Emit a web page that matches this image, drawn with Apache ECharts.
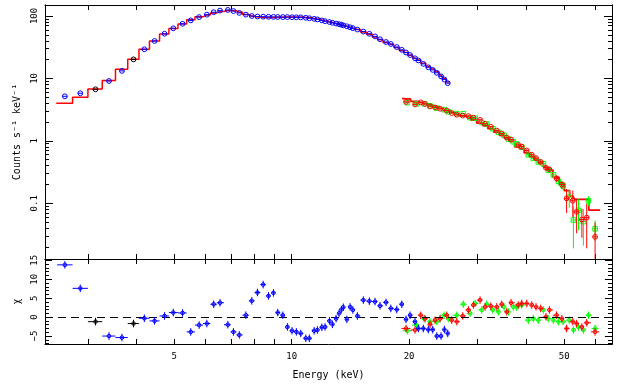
<!DOCTYPE html>
<html><head><meta charset="utf-8">
<script src="https://cdn.jsdelivr.net/npm/echarts@6.0.0/dist/echarts.min.js"></script>
<style>html,body{margin:0;padding:0;background:#fff}#c{width:622px;height:384px}</style>
</head><body><div id="c"></div>
<script>
// ---------- data (energies in keV, counts s^-1 keV^-1, residuals in chi) ----------
const blueE = [2.62,2.87,3.40,3.67,4.19,4.45,4.72,4.97,5.25,5.51,5.79,6.06,6.31,6.55,6.86,7.09,7.34,7.63,7.90,8.17,8.45,8.72,8.98,9.21,9.49,9.75,10.02,10.28,10.55,10.87,11.10,11.42,11.64,11.95,12.18,12.50,12.72,13.00,13.23,13.41,13.57,13.85,14.12,14.35,14.74,15.27,15.82,16.36,16.85,17.46,17.96,18.60,19.16,19.65,20.12,20.72,21.13,21.76,22.41,23.00,23.56,24.16,24.64,25.13];
const blueC = [5.17,5.78,9.1,13.2,29.3,39.8,52.0,63.5,75,85,96,105,115,122,125,120,112,105,100,98,97.5,97,96.7,96.4,96,96,95.6,95.3,95,93.6,92,90,88.2,85,82.6,80,77.8,75.5,74,72.3,70.7,68.4,65.9,63.8,60.6,56.3,51.9,47.1,42.4,38.3,35.6,31.8,28.7,26.0,23.7,21.0,19.4,17.1,15.1,13.7,12.3,10.8,9.6,8.4];
const blueChi = [13.8,7.6,-5.0,-5.4,-0.3,-1.0,0.3,1.2,1.1,-3.9,-2.1,-1.7,3.4,3.8,-2.0,-3.9,-4.7,0.5,4.3,6.5,8.6,5.6,6.4,1.2,0.5,-2.6,-3.6,-3.9,-4.3,-5.6,-5.6,-3.6,-3.4,-2.7,-2.6,-1.0,-1.9,-0.4,1.0,2.0,2.6,-0.6,2.7,1.9,0.3,4.5,4.2,4.1,3.0,3.9,2.3,2.0,3.4,-0.6,0.5,-1.2,-3.0,-3.0,-3.3,-3.3,-5.0,-5.0,-3.3,-4.3];

const blackE = [3.14,3.93];
const blackC = [6.7,20.2];
const blackChi = [-1.2,-1.7];

const modLoE = [2.49,2.62,2.87,3.14,3.40,3.67,3.93,4.19,4.45,4.72,4.97,5.25,5.51,5.79,6.06,6.31,6.55,6.86,7.09,7.34,7.63,7.90,8.17,8.45,8.72,8.98,9.21,9.49,9.75,10.02,10.28,10.55,10.87,11.10,11.42,11.64,11.95,12.18,12.50,12.72,13.00,13.23,13.41,13.57,13.85,14.12,14.35,14.74,15.27,15.82,16.36,16.85,17.46,17.96,18.60,19.16,19.65,20.12,20.72,21.13,21.76,22.41,23.00,23.56,24.16,24.64,25.13,25.4];
const modLoC = [4.0,4.0,5.0,6.8,9.3,14.0,20.2,29.3,39.8,51.5,63,74.5,87,97,104,112,118,123,121,115,106,99,96,95,95,95,95.5,95.6,96.5,96.5,96.3,96,95,93.5,91,89.3,86.2,83.5,80.5,78.5,75.8,73.5,71.6,70,68.6,65.2,63.3,60.5,55.2,50.8,46.2,41.7,37.5,35.1,31.4,28.1,26.1,23.6,21.2,19.8,17.5,15.5,14.1,12.8,11.3,10.0,8.8,8.8];

const redE = [19.65,20.72,21.43,21.98,22.64,23.32,24.02,24.99,25.73,26.51,27.46,28.39,29.24,30.42,31.33,32.41,33.58,34.58,35.62,36.52,38.13,38.9,40.07,41.28,42.33,43.52,44.9,45.8,47.8,49.3,50.7,52.6,53.8,55.5,57.1,60.0];
const redC = [4.21,3.84,4.13,3.91,3.57,3.43,3.27,3.06,2.79,2.62,2.54,2.49,2.35,2.17,1.88,1.68,1.46,1.31,1.13,1.05,0.86,0.81,0.70,0.60,0.53,0.46,0.37,0.35,0.25,0.20,0.12,0.11,0.073,0.055,0.059,0.029];
const redSig = [0.09,0.08,0.08,0.08,0.07,0.07,0.07,0.06,0.06,0.06,0.06,0.06,0.06,0.06,0.05,0.05,0.05,0.05,0.045,0.045,0.04,0.04,0.035,0.035,0.03,0.03,0.03,0.03,0.03,0.03,0.05,0.05,0.04,0.027,0.04,0.02];
const redChi = [-3.0,-3.4,0.5,-0.4,-1.9,-0.8,-0.4,0.5,-0.8,-1.2,0.3,1.9,3.2,4.5,2.7,2.9,2.7,3.4,1.4,3.8,3.2,3.6,3.6,3.2,2.7,2.3,0.1,1.9,0.5,-0.4,-3.0,-1.2,-1.7,-2.6,-1.5,-3.9];

const greenE = [19.8,20.9,21.85,22.64,23.56,24.6,25.22,26.51,27.56,28.67,29.53,30.72,31.64,32.8,33.9,35.05,35.95,37.02,37.77,38.9,40.45,41.67,42.91,44.2,45.5,46.9,48.3,49.7,51.5,52.8,54.4,56.0,57.7,60.0];
const greenC = [4.1,3.93,3.94,3.64,3.35,3.17,2.93,2.73,2.71,2.36,2.31,1.97,1.86,1.57,1.37,1.23,1.07,0.97,0.89,0.80,0.60,0.525,0.46,0.43,0.34,0.285,0.225,0.19,0.125,0.054,0.077,0.051,0.11,0.039];
const greenSig = [0.09,0.08,0.08,0.08,0.07,0.07,0.07,0.06,0.06,0.06,0.06,0.05,0.05,0.05,0.05,0.045,0.045,0.04,0.04,0.04,0.035,0.035,0.03,0.03,0.03,0.03,0.03,0.03,0.04,0.035,0.04,0.03,0.02,0.014];
const greenChi = [-3.6,-2.1,-0.4,-1.2,-1.2,0.5,-0.4,0.5,3.4,1.0,3.6,1.9,3.4,1.9,1.4,2.7,1.4,2.7,2.6,3.2,-0.8,-0.4,-0.8,1.9,-0.4,-0.8,-1.2,-1.2,-0.8,-3.4,-2.6,-3.4,0.5,-3.0];

const modHiE = [19.2,19.65,20.72,21.43,21.98,22.64,23.32,24.02,24.99,25.73,26.51,27.46,28.39,29.24,30.42,31.33,32.41,33.58,34.58,35.62,36.52,38.13,38.9,40.07,41.28,42.33,43.52,44.9,45.8,47.8,49.3,50.7,52.6,53.8,55.5,57.1,58.5,60.0,61.8];
const modHiC = [4.8,4.7,4.3,4.1,3.95,3.75,3.52,3.32,3.04,2.86,2.7,2.5,2.33,2.15,1.93,1.76,1.57,1.38,1.23,1.1,0.98,0.8,0.74,0.64,0.56,0.5,0.44,0.38,0.34,0.26,0.21,0.16,0.13,0.116,0.116,0.116,0.078,0.078,0.078];

const xTickE = [3,4,5,6,7,8,9,10,20,30,40,50,60];
const xLabelE = [5,10,20,50];
const yLabelC = [0.1,1,10,100];
const yMinorC = [0.02,0.03,0.04,0.05,0.06,0.07,0.08,0.09,0.2,0.3,0.4,0.5,0.6,0.7,0.8,0.9,2,3,4,5,6,7,8,9,20,30,40,50,60,70,80,90];
const chiLabels = [-5,0,5,10,15];
const chiMinor = [-7,-6,-4,-3,-2,-1,1,2,3,4,6,7,8,9,11,12,13,14];

// ---------- helpers ----------
const L = Math.log10;
const X_MIN = L(2.33), X_MAX = L(66.3);
const Y_MIN = -1.892, Y_MAX = 2.176;
const C_MIN = -7.1, C_MAX = 15.35;
const FONT = 'DejaVu Sans Mono';

function binEdges(E){
  const lo=[],hi=[];
  for(let i=0;i<E.length;i++){
    const l = i>0 ? Math.sqrt(E[i-1]*E[i]) : E[i]*E[i]/Math.sqrt(E[i]*E[i+1]);
    const h = i<E.length-1 ? Math.sqrt(E[i]*E[i+1]) : E[i]*E[i]/Math.sqrt(E[i-1]*E[i]);
    lo.push(l); hi.push(h);
  }
  return [lo,hi];
}
const loAll = blueE.concat(blackE).sort((a,b)=>a-b);
const [loL, loH] = binEdges(loAll);
function edgeOf(e){ const i = loAll.indexOf(e); return [loL[i], loH[i]]; }

function topRows(E, C, S, edgesFn){
  return E.map((e,i)=>{
    const [el,eh] = edgesFn(e,i);
    const s = S ? S[i] : 0;
    const lo = C[i]-s > 0 ? Math.max(L(C[i]-s), Y_MIN) : Y_MIN;
    return [L(e), L(C[i]), L(el), L(eh), lo, L(C[i]+s)];
  });
}
function resRows(E, R, edgesFn){
  return E.map((e,i)=>{
    const [el,eh] = edgesFn(e,i);
    return [L(e), R[i], L(el), L(eh), Math.max(R[i]-1, C_MIN), Math.min(R[i]+1, C_MAX)];
  });
}
const [rL,rH] = binEdges(redE), [gL,gH] = binEdges(greenE);
const loEdge = (e)=>edgeOf(e);
const redEdge = (e,i)=>[rL[i],rH[i]];
const greenEdge = (e,i)=>[gL[i],gH[i]];

// showX: draw full horizontal bin bar; otherwise only a short bar inside the marker
function errSeries(xi, yi, rows, color, shape, r, z, showX){
  return {
    type:'custom', xAxisIndex:xi, yAxisIndex:yi, z:z, silent:true, animation:false,
    data: rows,
    renderItem(params, api){
      const x=api.value(0), y=api.value(1);
      const c=api.coord([x,y]);
      let a=api.coord([api.value(2),y]), b=api.coord([api.value(3),y]);
      if(!showX){ a=[c[0]-r,c[1]]; b=[c[0]+r,c[1]]; }
      const d=api.coord([x,api.value(4)]), e=api.coord([x,api.value(5)]);
      const st={stroke:color, lineWidth:1, fill:'none'};
      const ch=[
        {type:'line', shape:{x1:a[0],y1:c[1],x2:b[0],y2:c[1]}, style:st},
        {type:'line', shape:{x1:c[0],y1:d[1],x2:c[0],y2:e[1]}, style:st}
      ];
      if(shape==='rect') ch.push({type:'rect', shape:{x:c[0]-r,y:c[1]-r,width:2*r,height:2*r}, style:st});
      else ch.push({type:'circle', shape:{cx:c[0],cy:c[1],r:r}, style:st});
      return {type:'group', children:ch};
    }
  };
}

const lab = {color:'#000', fontFamily:FONT, fontSize:9};
function xAx(grid, pos, withLabels, name){
  return {type:'value', gridIndex:grid, position:pos, min:X_MIN, max:X_MAX,
    axisLine:{show:true, onZero:false, lineStyle:{color:'#000', width:1}},
    axisTick:{show:true, inside:true, length:5, customValues:xTickE.map(L), lineStyle:{color:'#000', width:1}},
    axisLabel:Object.assign({show:withLabels, customValues:xLabelE.map(L), margin:8,
      formatter:v=>String(Math.round(Math.pow(10,v)))}, lab),
    splitLine:{show:false}, minorTick:{show:false},
    name:name||'', nameLocation:'middle', nameGap:26,
    nameTextStyle:{color:'#000', fontFamily:FONT, fontSize:10}};
}
function yAx(grid, pos, min, max, ticks, len, labels, fmt, name, gap){
  return {type:'value', gridIndex:grid, position:pos, min:min, max:max,
    axisLine:{show:true, onZero:false, lineStyle:{color:'#000', width:1}},
    axisTick:{show:true, inside:true, length:len, customValues:ticks, lineStyle:{color:'#000', width:1}},
    axisLabel:Object.assign({show:!!labels, customValues:labels||[], rotate:90, margin:6, formatter:fmt}, lab),
    splitLine:{show:false},
    name:name||'', nameLocation:'middle', nameRotate:90, nameGap:gap||0,
    nameTextStyle:{color:'#000', fontFamily:FONT, fontSize:10}};
}
const fmtLog = v => String(parseFloat(Math.pow(10,v).toPrecision(3)));
const fmtLin = v => (v<0 ? '\u2212'+Math.abs(v) : String(v));

const option = {
  backgroundColor:'#fff',
  animation:false,
  grid:[
    {left:45, top:5, width:567, height:254},
    {left:45, top:259, width:567, height:85}
  ],
  xAxis:[
    xAx(0,'bottom',false), xAx(0,'top',false),
    xAx(1,'bottom',true,'Energy (keV)'), xAx(1,'top',false)
  ],
  yAxis:[
    yAx(0,'left',Y_MIN,Y_MAX,yLabelC.map(L),8,yLabelC.map(L),fmtLog,'Counts s\u207B\u00B9 keV\u207B\u00B9',17),
    yAx(0,'left',Y_MIN,Y_MAX,yMinorC.map(L),4,null,null),
    yAx(0,'right',Y_MIN,Y_MAX,yLabelC.map(L),8,null,null),
    yAx(0,'right',Y_MIN,Y_MAX,yMinorC.map(L),4,null,null),
    yAx(1,'left',C_MIN,C_MAX,chiLabels,7,chiLabels,fmtLin,'\u03C7',19),
    yAx(1,'left',C_MIN,C_MAX,chiMinor,4,null,null),
    yAx(1,'right',C_MIN,C_MAX,chiLabels,7,null,null),
    yAx(1,'right',C_MIN,C_MAX,chiMinor,4,null,null)
  ],
  series:[
    {type:'line', xAxisIndex:0, yAxisIndex:0, step:'middle', showSymbol:false, silent:true, z:2,
      data:modLoE.map((e,i)=>[L(e),L(modLoC[i])]), lineStyle:{color:'#ff0000', width:1.5}},
    {type:'line', xAxisIndex:0, yAxisIndex:0, step:'middle', showSymbol:false, silent:true, z:2,
      data:modHiE.map((e,i)=>[L(e),L(modHiC[i])]), lineStyle:{color:'#ff0000', width:1.8}},
    errSeries(0,0, topRows(greenE, greenC, greenSig, greenEdge), '#00ff00','rect',2.3,3,false),
    errSeries(0,0, topRows(redE, redC, redSig, redEdge), '#ff0000','circle',2.4,4,false),
    errSeries(0,0, topRows(blackE, blackC, null, loEdge), '#000000','circle',2.4,4,false),
    errSeries(0,0, topRows(blueE, blueC, null, loEdge), '#0000ff','circle',2.4,5,false),
    Object.assign(errSeries(2,4, resRows(greenE, greenChi, greenEdge), '#00ff00','circle',1.8,3,true), {
      markLine:{silent:true, symbol:'none', animation:false, label:{show:false},
        lineStyle:{color:'#000', width:1, type:[8,5]}, data:[{yAxis:0}]}}),
    errSeries(2,4, resRows(redE, redChi, redEdge), '#ff0000','circle',1.8,4,true),
    errSeries(2,4, resRows(blackE, blackChi, loEdge), '#000000','circle',1.8,4,true),
    errSeries(2,4, resRows(blueE, blueChi, loEdge), '#0000ff','circle',1.8,5,true)
  ]
};
const chart = echarts.init(document.getElementById('c'), null, {renderer:'canvas'});
chart.setOption(option);
</script>
</body></html>
